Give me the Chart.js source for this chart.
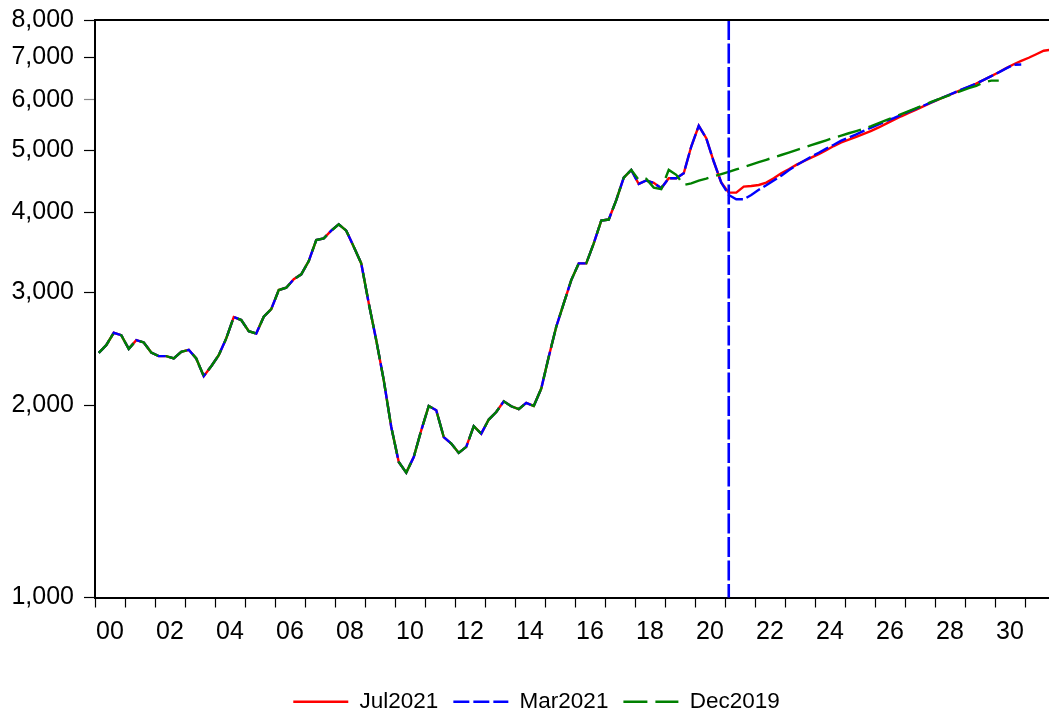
<!DOCTYPE html>
<html>
<head>
<meta charset="utf-8">
<script src="https://cdn.jsdelivr.net/npm/chart.js@4.4.1/dist/chart.umd.min.js"></script>
<style>
html,body{margin:0;padding:0;background:#fff;}
#wrap{width:1049px;height:715px;position:relative;}
</style>
</head>
<body>
<div id="wrap"><canvas id="c"></canvas></div>
<script>
// Quarterly data, first observation = 2000Q1
const firstYear = 2000;

// Common history 2000Q1 - 2017Q4 (all three vintages)
const historyCommon = [
  2413, 2481, 2594, 2572,   // 2000
  2448, 2526, 2505, 2416,   // 2001
  2385, 2385, 2365, 2422,   // 2002
  2440, 2365, 2219, 2300,   // 2003
  2393, 2542, 2745, 2716,   // 2004
  2609, 2587, 2748, 2825,   // 2005
  3025, 3051, 3145, 3202,   // 2006
  3358, 3623, 3645, 3747,   // 2007
  3834, 3747, 3536, 3330,   // 2008
  2884, 2526, 2187, 1848,   // 2009
  1629, 1568, 1658, 1826,   // 2010
  1993, 1963, 1782, 1741,   // 2011
  1683, 1720, 1853, 1804,   // 2012
  1898, 1950, 2027, 1991,   // 2013
  1970, 2015, 1993, 2122,   // 2014
  2379, 2651, 2884, 3136,   // 2015
  3330, 3330, 3580, 3886,   // 2016
  3900, 4183, 4535, 4663    // 2017
];

// Vintage-specific values from 2018Q1 onward
const jul2021Tail = [
  4433, 4488, 4450, 4364,   // 2018
  4525, 4525, 4607, 5073,   // 2019
  5465, 5228, 4806, 4455,   // 2020
  4297, 4297, 4390, 4400,   // 2021
  4417, 4455, 4524, 4607,   // 2022
  4675, 4748, 4813, 4874,   // 2023
  4936, 5006, 5081, 5147,   // 2024
  5199, 5250, 5307, 5366,   // 2025
  5433, 5508, 5582, 5656,   // 2026
  5726, 5795, 5866, 5938,   // 2027
  6012, 6080, 6149, 6219,   // 2028
  6290, 6361, 6448, 6536,   // 2029
  6628, 6726, 6822, 6903,   // 2030
  6983, 7072, 7161, 7190    // 2031
];
const mar2021Tail = [
  4433, 4488, 4450, 4364,   // 2018
  4525, 4525, 4607, 5073,   // 2019
  5465, 5228, 4806, 4455,   // 2020
  4261, 4195, 4195, 4261,   // 2021
  4340, 4411, 4488, 4566,   // 2022
  4658, 4740, 4815, 4890,   // 2023
  4960, 5035, 5105, 5180,   // 2024
  5240, 5300, 5365, 5430,   // 2025
  5495, 5560, 5620, 5685,   // 2026
  5750, 5815, 5880, 5945,   // 2027
  6015, 6085, 6155, 6225,   // 2028
  6295, 6365, 6450, 6535,   // 2029
  6625, 6720, 6810, 6815    // 2030
];
const dec2019Tail = [
  4498, 4515, 4375, 4350,   // 2018
  4663, 4581, 4417, 4443,   // 2019
  4487, 4520, 4557, 4594,   // 2020
  4631, 4671, 4712, 4753,   // 2021
  4794, 4836, 4878, 4920,   // 2022
  4963, 5006, 5051, 5097,   // 2023
  5142, 5188, 5235, 5277,   // 2024
  5321, 5363, 5406, 5460,   // 2025
  5519, 5579, 5640, 5702,   // 2026
  5764, 5827, 5890, 5955,   // 2027
  6016, 6077, 6138, 6200,   // 2028
  6259, 6313, 6390, 6430,   // 2029
  6430                      // 2030
];

const seriesNames = ['Jul2021', 'Mar2021', 'Dec2019'];
const yTickValues = [1000, 2000, 3000, 4000, 5000, 6000, 7000, 8000];
const xTickYears = [2000,2001,2002,2003,2004,2005,2006,2007,2008,2009,2010,2011,2012,2013,2014,2015,
                    2016,2017,2018,2019,2020,2021,2022,2023,2024,2025,2026,2027,2028,2029,2030,2031];
const forecastMarker = 2021.125; // 2021Q1

function toPoints(values) {
  return values.map((v, i) => ({ x: firstYear + i / 4 + 0.125, y: v }));
}

const FONT = "'Liberation Sans', Arial, sans-serif";
Chart.defaults.font.family = FONT;

const frame = {
  id: 'frame',
  afterLayout(chart) {
    const l = chart.legend;
    if (l) { l.left += 12; l.right += 12; }
  },
  afterDatasetsDraw(chart) {
    const { ctx, chartArea: a, scales } = chart;
    const px = scales.x.getPixelForValue(forecastMarker);
    ctx.save();
    ctx.strokeStyle = '#0000ff';
    ctx.lineWidth = 2.6;
    ctx.setLineDash([20, 3.5]);
    ctx.beginPath();
    ctx.moveTo(px, a.top);
    ctx.lineTo(px, a.bottom);
    ctx.stroke();
    ctx.setLineDash([]);
    ctx.strokeStyle = '#000';
    ctx.lineWidth = 2;
    ctx.beginPath();
    ctx.moveTo(a.left - 1, a.top);
    ctx.lineTo(a.right, a.top);
    ctx.stroke();
    ctx.restore();
  }
};

new Chart(document.getElementById('c'), {
  type: 'line',
  data: {
    datasets: [
      {
        label: seriesNames[0],
        data: toPoints(historyCommon.concat(jul2021Tail)),
        borderColor: '#ff0000', borderWidth: 2.4, pointRadius: 0, tension: 0,
        order: 3
      },
      {
        label: seriesNames[1],
        data: toPoints(historyCommon.concat(mar2021Tail)),
        borderColor: '#0000ff', borderWidth: 2.4, borderDash: [16, 4], pointRadius: 0, tension: 0,
        order: 2
      },
      {
        label: seriesNames[2],
        data: toPoints(historyCommon.concat(dec2019Tail)),
        borderColor: '#008000', borderWidth: 2.4, borderDash: [24, 8], pointRadius: 0, tension: 0,
        order: 1
      }
    ]
  },
  options: {
    responsive: true,
    maintainAspectRatio: false,
    animation: false,
    layout: { padding: { top: 20, right: 0, left: 0, bottom: -8 } },
    scales: {
      x: {
        type: 'linear', min: 2000, max: 2031.8,
        afterBuildTicks: s => { s.ticks = xTickYears.map(v => ({ value: v })); },
        afterFit: s => { s.height = 78; s.paddingLeft = 0; s.paddingRight = 0; },
        ticks: {
          autoSkip: false, maxRotation: 0, minRotation: 0, labelOffset: 15, padding: 10,
          color: '#000', font: { size: 25 },
          callback: v => (v % 2 === 0 ? String(v % 100).padStart(2, '0') : '')
        },
        grid: { drawOnChartArea: false, tickLength: 10, tickColor: '#000', tickWidth: 1.2 },
        border: { color: '#000', width: 2 }
      },
      y: {
        type: 'logarithmic', min: 1000, max: 8000,
        afterBuildTicks: s => { s.ticks = yTickValues.map(v => ({ value: v })); },
        afterFit: s => { s.width = 95; s.paddingTop = 0; s.paddingBottom = 0; },
        ticks: {
          autoSkip: false, padding: 10, color: '#000', font: { size: 25 },
          callback: v => Number(v).toLocaleString('en-US')
        },
        grid: { drawOnChartArea: false, tickLength: 11, tickColor: c => (c.tick && c.tick.value === 6000 ? '#888' : '#000'), tickWidth: 1.2 },
        border: { color: '#000', width: 2 }
      }
    },
    plugins: {
      legend: {
        position: 'bottom',
        labels: {
          usePointStyle: true, pointStyle: 'line', pointStyleWidth: 55, boxHeight: 23,
          color: '#000', font: { size: 22.5 }, padding: 15,
          sort: (a, b) => a.datasetIndex - b.datasetIndex,
          generateLabels: chart => Chart.defaults.plugins.legend.labels.generateLabels(chart).map(item => {
            const ds = chart.data.datasets[item.datasetIndex];
            item.lineDash = ds.borderDash || [];
            item.strokeStyle = ds.borderColor;
            item.lineWidth = 2.7;
            item.pointStyle = 'line';
            return item;
          })
        }
      },
      tooltip: { enabled: false }
    }
  },
  plugins: [frame]
});
</script>
</body>
</html>
